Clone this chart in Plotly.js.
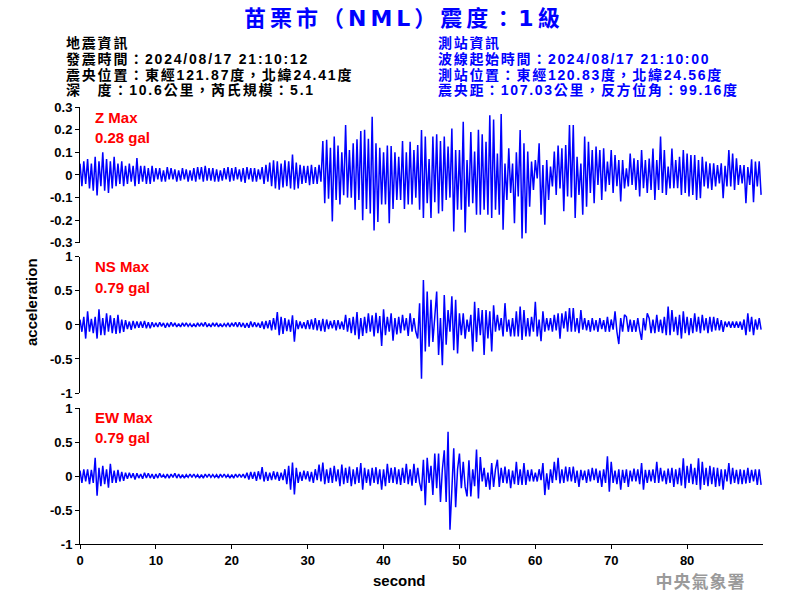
<!DOCTYPE html>
<html>
<head>
<meta charset="utf-8">
<script src="https://cdn.plot.ly/plotly-3.0.1.min.js"></script>
<style>body{margin:0;background:#fff}</style>
</head>
<body>
<div id="chart" style="width:800px;height:600px"></div>
<script>
// seconds between readings
const sampleStep = 0.25;

// Z component (gal)
const zValues = [
 0.05,-0.05,0.06,-0.04, 0.07,-0.06,0.05,-0.07,
 0.08,-0.09,0.06,-0.05, 0.10,-0.07,0.07,-0.08,
 0.06,-0.06,0.08,-0.05, 0.05,-0.04,0.06,-0.05,
 0.04,-0.04,0.05,-0.03, 0.04,-0.05,0.075,-0.04,
 0.04,-0.03,0.04,-0.04, 0.03,-0.04,0.04,-0.03,
 0.03,-0.02,0.03,-0.03, 0.02,-0.03,0.035,-0.02,
 0.03,-0.02,0.025,-0.03, 0.02,-0.025,0.03,-0.02,
 0.025,-0.03,0.02,-0.025, 0.03,-0.03,0.035,-0.02,
 0.035,-0.03,0.04,-0.025, 0.03,-0.025,0.03,-0.03,
 0.025,-0.03,0.02,-0.025, 0.03,-0.02,0.035,-0.03,
 0.03,-0.025,0.035,-0.02, 0.025,-0.03,0.03,-0.035,
 0.035,-0.02,0.03,-0.03, 0.03,-0.03,0.025,-0.02,
 0.035,-0.04,0.045,-0.03, 0.055,-0.05,0.065,-0.06,
 0.06,-0.065,0.05,-0.055, 0.065,-0.05,0.06,-0.06,
 0.09,-0.065,0.055,-0.06, 0.045,-0.04,0.04,-0.035,
 0.04,-0.045,0.045,-0.04, 0.035,-0.04,0.045,-0.03,
 0.15,-0.125,0.155,-0.105, 0.12,-0.205,0.17,-0.11,
 0.13,-0.13,0.10,-0.09, 0.22,-0.10,0.11,-0.10,
 0.14,-0.154,0.157,-0.11, 0.194,-0.20,0.20,-0.15,
 0.16,-0.17,0.257,-0.245, 0.14,-0.208,0.12,-0.13,
 0.10,-0.13,0.13,-0.213, 0.128,-0.15,0.10,-0.11,
 0.08,-0.11,0.15,-0.15, 0.10,-0.13,0.147,-0.13,
 0.11,-0.10,0.132,-0.154, 0.198,-0.19,0.17,-0.125,
 0.07,-0.19,0.17,-0.12, 0.18,-0.17,0.15,-0.16,
 0.17,-0.11,0.125,-0.10, 0.205,-0.25,0.11,-0.154,
 0.11,-0.154,0.235,-0.254, 0.066,-0.14,0.19,-0.125,
 0.103,-0.176,0.20,-0.176, 0.18,-0.154,0.147,-0.176,
 0.264,-0.19,0.245,-0.154, 0.095,-0.176,0.269,-0.242,
 0.05,-0.11,0.118,-0.08, 0.05,-0.213,0.10,-0.095,
 0.198,-0.28,0.14,-0.257, 0.103,-0.14,0.059,-0.066,
 0.066,-0.015,0.14,-0.176, 0.044,-0.22,0.066,-0.11,
 0.037,-0.051,0.103,-0.088, 0.13,-0.06,0.118,-0.16,
 0.132,-0.095,0.22,-0.10, 0.22,-0.19,0.08,-0.088,
 0.05,-0.176,0.17,-0.14, 0.147,-0.08,0.11,-0.125,
 0.125,-0.044,0.11,-0.11, 0.118,-0.073,0.059,-0.044,
 0.11,-0.08,0.088,-0.05, 0.066,-0.117,0.066,-0.06,
 0.029,-0.051,0.095,-0.044, 0.073,-0.066,0.066,-0.095,
 0.11,-0.059,0.066,-0.08, 0.073,-0.066,0.117,-0.11,
 0.066,-0.066,0.17,-0.08, 0.11,-0.088,0.037,-0.06,
 0.117,-0.059,0.066,-0.059, 0.08,-0.088,0.11,-0.08,
 0.095,-0.095,0.088,-0.088, 0.088,-0.11,0.066,-0.103,
 0.08,-0.051,0.059,-0.06, 0.051,-0.066,0.051,-0.051,
 0.044,-0.037,0.051,-0.103, 0.04,-0.051,0.11,-0.051,
 0.095,-0.066,0.073,-0.044, 0.044,-0.037,0.044,-0.125,
 0.035,-0.044,0.069,-0.12, 0.059,-0.051,0.06,-0.088
];

// NS component (gal)
const nsValues = [
 0.08,-0.1,0.12,-0.2, 0.2,-0.1,0.09,-0.12,
 0.12,-0.2,0.23,-0.15, 0.1,-0.15,0.17,-0.1,
 0.14,-0.12,0.1,-0.13, 0.15,-0.12,0.08,-0.1,
 0.07,-0.06,0.05,-0.07, 0.06,-0.05,0.05,-0.04,
 0.05,-0.04,0.06,-0.05, 0.04,-0.05,0.04,-0.03,
 0.03,-0.03,0.04,-0.02, 0.03,-0.04,0.03,-0.03,
 0.04,-0.02,0.03,-0.03, 0.02,-0.03,0.03,-0.02,
 0.03,-0.02,0.02,-0.03, 0.02,-0.03,0.03,-0.02,
 0.03,-0.02,0.04,-0.03, 0.02,-0.03,0.03,-0.02,
 0.03,-0.03,0.02,-0.03, 0.02,-0.02,0.03,-0.03,
 0.03,-0.02,0.04,-0.03, 0.04,-0.03,0.03,-0.04,
 0.03,-0.04,0.05,-0.03, 0.04,-0.03,0.03,-0.04,
 0.05,-0.06,0.06,-0.05, 0.07,-0.08,0.1,-0.07,
 0.19,-0.15,0.12,-0.13, 0.1,-0.09,0.08,-0.1,
 0.14,-0.245,0.07,-0.06, 0.05,-0.05,0.04,-0.06,
 0.07,-0.06,0.08,-0.07, 0.1,-0.08,0.07,-0.09,
 0.09,-0.1,0.08,-0.06, 0.06,-0.05,0.07,-0.08,
 0.07,-0.06,0.05,-0.07, 0.15,-0.1,0.1,-0.12,
 0.12,-0.15,0.19,-0.21, 0.1,-0.16,0.12,-0.12,
 0.17,-0.1,0.14,-0.17, 0.18,-0.12,0.13,-0.31,
 0.23,-0.15,0.12,-0.1, 0.17,-0.23,0.1,-0.14,
 0.12,-0.12,0.15,-0.08, 0.1,-0.16,0.17,-0.1,
 0.1,-0.1,-0.2,0.32, -0.79,0.66,-0.39,0.49,
 -0.32,0.37,-0.25,0.2, 0.49,-0.44,0.1,-0.59,
 0.44,-0.29,0.22,-0.1, 0.42,-0.37,0.37,-0.42,
 0.17,-0.15,0.17,-0.2, 0.08,-0.1,0.15,-0.39,
 0.34,-0.25,0.25,-0.15, 0.22,-0.44,0.22,-0.2,
 0.2,-0.39,0.29,-0.1, 0.15,-0.08,0.1,-0.17,
 0.32,-0.1,0.08,-0.17, 0.1,-0.17,0.2,-0.17,
 0.27,-0.22,0.22,-0.17, 0.1,-0.17,0.12,-0.1,
 0.34,-0.17,0.08,-0.24, 0.2,-0.1,0.1,-0.08,
 0.1,-0.1,0.15,-0.08, 0.17,-0.2,0.17,-0.05,
 0.2,-0.1,0.25,-0.1, 0.25,-0.1,0.1,-0.12,
 0.22,-0.07,0.1,-0.08, 0.07,-0.1,0.1,-0.08,
 0.07,-0.1,0.1,-0.06, 0.07,-0.1,0.12,-0.1,
 0.08,-0.07,0.2,-0.1, -0.28,0.1,-0.1,0.15,
 0.12,-0.1,0.08,-0.1, 0.07,-0.1,0.1,-0.08,
 -0.22,0.1,-0.08,0.17, 0.1,-0.12,0.08,-0.12,
 0.15,-0.1,0.08,-0.12, 0.12,-0.15,0.27,-0.15,
 0.22,-0.1,0.12,-0.15, 0.15,-0.2,0.2,-0.12,
 0.12,-0.15,0.1,-0.12, 0.17,-0.1,0.12,-0.12,
 0.15,-0.08,0.1,-0.12, 0.12,-0.1,0.12,-0.08,
 0.1,-0.08,0.07,-0.1, 0.05,-0.03,0.05,-0.04,
 0.05,-0.04,0.05,-0.04, 0.05,-0.07,0.08,-0.15,
 0.17,-0.1,0.12,-0.15, 0.08,-0.07,0.1,-0.07
];

// EW component (gal)
const ewValues = [
 0.08,-0.1,0.1,-0.08, 0.1,-0.12,0.09,-0.1,
 0.27,-0.29,0.12,-0.15, 0.15,-0.12,0.1,-0.17,
 0.18,-0.1,0.08,-0.1, 0.09,-0.08,0.06,-0.07,
 0.05,-0.04,0.05,-0.03, 0.04,-0.05,0.04,-0.03,
 0.03,-0.04,0.05,-0.03, 0.04,-0.03,0.03,-0.04,
 0.03,-0.03,0.04,-0.02, 0.02,-0.03,0.03,-0.03,
 0.03,-0.02,0.04,-0.03, 0.03,-0.03,0.02,-0.03,
 0.02,-0.02,0.03,-0.02, 0.03,-0.02,0.02,-0.03,
 0.02,-0.03,0.03,-0.02, 0.03,-0.02,0.02,-0.02,
 0.02,-0.03,0.03,-0.02, 0.03,-0.02,0.02,-0.03,
 0.02,-0.03,0.03,-0.02, 0.03,-0.02,0.03,-0.03,
 0.05,-0.05,0.06,-0.04, 0.06,-0.07,0.07,-0.05,
 0.13,-0.08,0.06,-0.07, 0.05,-0.06,0.07,-0.05,
 0.06,-0.07,0.05,-0.06, 0.1,-0.12,0.15,-0.2,
 0.2,-0.27,0.12,-0.1, 0.06,-0.07,0.08,-0.05,
 0.07,-0.08,0.06,-0.1, 0.1,-0.06,0.17,-0.08,
 0.2,-0.12,0.1,-0.1, 0.12,-0.1,0.15,-0.08,
 0.1,-0.15,0.17,-0.12, 0.12,-0.1,0.14,-0.15,
 0.1,-0.12,0.13,-0.1, 0.19,-0.2,0.12,-0.1,
 0.1,-0.14,0.12,-0.1, 0.13,-0.12,0.1,-0.2,
 0.1,-0.15,0.18,-0.1, 0.12,-0.1,0.13,-0.12,
 0.1,-0.13,0.12,-0.1, 0.18,-0.12,0.1,-0.14,
 0.18,-0.1,0.12,-0.1, -0.22,0.24,-0.43,0.27,
 -0.1,0.15,-0.28,0.33, -0.18,0.33,-0.38,0.1,
 0.38,-0.38,0.65,-0.79, -0.2,0.41,-0.46,0.1,
 0.33,-0.18,0.21,-0.16, -0.3,0.23,-0.3,0.1,
 -0.15,0.39,-0.33,0.28, -0.08,0.12,-0.16,0.05,
 -0.2,0.19,-0.16,0.1, 0.24,-0.16,0.12,-0.1,
 0.14,-0.11,0.1,-0.18, 0.08,-0.12,0.21,-0.13,
 0.1,-0.13,0.19,-0.13, 0.09,-0.08,0.1,-0.08,
 0.05,-0.08,0.1,-0.06, 0.19,-0.28,0.04,-0.2,
 0.1,-0.1,0.21,-0.06, 0.27,-0.11,0.1,-0.1,
 0.14,-0.08,0.13,-0.08, 0.14,-0.1,0.08,-0.16,
 0.09,-0.06,0.08,-0.1, 0.1,-0.08,0.12,-0.06,
 0.11,-0.1,0.08,-0.16, 0.1,-0.1,0.29,-0.23,
 0.21,-0.1,0.08,-0.12, 0.1,-0.2,0.09,-0.1,
 0.1,-0.16,0.08,-0.08, 0.11,-0.08,0.1,-0.12,
 0.19,-0.2,0.09,-0.1, 0.09,-0.08,0.1,-0.1,
 0.21,-0.1,0.12,-0.08, 0.08,-0.12,0.11,-0.1,
 0.12,-0.16,0.1,-0.12, 0.12,-0.14,0.26,-0.18,
 0.15,-0.1,0.18,-0.12, 0.12,-0.13,0.26,-0.2,
 0.21,-0.13,0.12,-0.15, 0.15,-0.12,0.13,-0.16,
 0.12,-0.15,0.1,-0.2, 0.1,-0.08,0.19,-0.12,
 0.12,-0.1,0.09,-0.12, 0.1,-0.12,0.09,-0.11,
 0.12,-0.1,0.09,-0.08, 0.1,-0.13,0.1,-0.13
];

const xTickVals = [0, 10, 20, 30, 40, 50, 60, 70, 80];
const xTickText = ['0', '10', '20', '30', '40', '50', '60', '70', '80'];
const zTickVals = [-0.3, -0.2, -0.1, 0, 0.1, 0.2, 0.3];
const zTickText = ['-0.3', '-0.2', '-0.1', '0', '0.1', '0.2', '0.3'];
const hTickVals = [-1, -0.5, 0, 0.5, 1];
const hTickText = ['-1', '-0.5', '0', '0.5', '1'];

const channelLabels = ['Z Max', 'NS Max', 'EW Max'];
const channelPeaks = ['0.28 gal', '0.79 gal', '0.79 gal'];

const titleText = '苗栗市（NML）震度：1級';
const quakeInfo = ['地震資訊', '發震時間：2024/08/17 21:10:12', '震央位置：東經121.87度，北緯24.41度', '深　度：10.6公里，芮氏規模：5.1'];
const stationInfo = ['測站資訊', '波線起始時間：2024/08/17 21:10:00', '測站位置：東經120.83度，北緯24.56度', '震央距：107.03公里，反方位角：99.16度'];
const xTitle = 'second';
const yTitle = 'acceleration';
const watermark = '中央氣象署';

const time = zValues.map((_, i) => i * sampleStep);

const lineStyle = {color: '#0000ff', width: 1.5};
const traces = [
  {x: time, y: zValues, xaxis: 'x', yaxis: 'y', type: 'scatter', mode: 'lines', line: lineStyle, hoverinfo: 'skip'},
  {x: time, y: nsValues, xaxis: 'x', yaxis: 'y2', type: 'scatter', mode: 'lines', line: lineStyle, hoverinfo: 'skip'},
  {x: time, y: ewValues, xaxis: 'x', yaxis: 'y3', type: 'scatter', mode: 'lines', line: lineStyle, hoverinfo: 'skip'}
];

const latin = "'Liberation Sans', Arial, sans-serif";
const mixed = "'Liberation Sans', 'Noto Sans CJK TC', sans-serif";
const tickFont = {family: latin, size: 13, color: '#000', weight: 'bold'};

function yAxis(domain, vals, text, range) {
  return {
    domain: domain, range: range, anchor: 'x',
    tickmode: 'array', tickvals: vals, ticktext: text,
    ticks: 'outside', ticklen: 4, tickwidth: 1, tickcolor: '#000',
    showline: true, linecolor: '#000', linewidth: 1,
    showgrid: false, zeroline: false, tickfont: tickFont, fixedrange: true
  };
}

const ann = [];
const spacing = [];
function addText(text, x, y, font, xanchor, extra, letterSpacing) {
  ann.push(Object.assign({text: text, x: x, y: y, xref: 'paper', yref: 'paper', showarrow: false,
    xanchor: xanchor, align: xanchor, yanchor: 'middle', font: font, borderpad: 0}, extra || {}));
  spacing.push(letterSpacing || 0);
}

addText(titleText, 0.2387, 1.2014, {family: "'DejaVu Sans', 'Noto Sans CJK TC', sans-serif", size: 22, color: '#0000ff', weight: 'bold'}, 'left', null, 4);
const infoY = [1.146, 1.110, 1.074, 1.039];
quakeInfo.forEach((t, i) => addText(t, -0.022, infoY[i], {family: mixed, size: 14, color: '#000', weight: 'bold'}, 'left', null, 1.8));
stationInfo.forEach((t, i) => addText(t, 0.5227, infoY[i], {family: mixed, size: 14, color: '#0000ff', weight: 'bold'}, 'left', null, 1.7));

const labelY = [[0.977, 0.930], [0.634, 0.587], [0.2895, 0.2437]];
channelLabels.forEach((t, i) => {
  addText(t, 0.0205, labelY[i][0], {family: latin, size: 15, color: '#ff0000', weight: 'bold'}, 'left');
  addText(channelPeaks[i], 0.0205, labelY[i][1], {family: latin, size: 15, color: '#ff0000', weight: 'bold'}, 'left');
});

addText(yTitle, -0.0703, 0.5538, {family: latin, size: 15, color: '#000', weight: 'bold'}, 'center', {textangle: -90});
addText(xTitle, 0.4685, -0.0824, {family: latin, size: 15, color: '#000', weight: 'bold'}, 'center');
addText(watermark, 0.9078, -0.0824, {family: "'Noto Sans CJK TC', sans-serif", size: 17, color: '#9a9a9a', weight: 'bold'}, 'center', null, 1);

const layout = {
  width: 800, height: 600,
  margin: {l: 80, r: 37, t: 107, b: 56},
  paper_bgcolor: '#fff', plot_bgcolor: '#fff',
  showlegend: false,
  xaxis: {
    domain: [0, 1], range: [0, 90], anchor: 'y3',
    tickmode: 'array', tickvals: xTickVals, ticktext: xTickText,
    ticks: 'outside', ticklen: 4, tickwidth: 1, tickcolor: '#000',
    showline: true, linecolor: '#000', linewidth: 1,
    showgrid: false, zeroline: false, tickfont: tickFont, fixedrange: true
  },
  yaxis: yAxis([0.689, 1], zTickVals, zTickText, [-0.3, 0.3]),
  yaxis2: yAxis([0.3455, 0.657], hTickVals, hTickText, [-1, 1]),
  yaxis3: yAxis([0, 0.311], hTickVals, hTickText, [-1, 1]),
  annotations: ann
};

Plotly.newPlot('chart', traces, layout, {staticPlot: true, displayModeBar: false}).then(function (gd) {
  const nodes = gd.querySelectorAll('.annotation .annotation-text');
  nodes.forEach(function (node, i) {
    if (spacing[i]) node.style.letterSpacing = spacing[i] + 'px';
  });
});
</script>
</body>
</html>
